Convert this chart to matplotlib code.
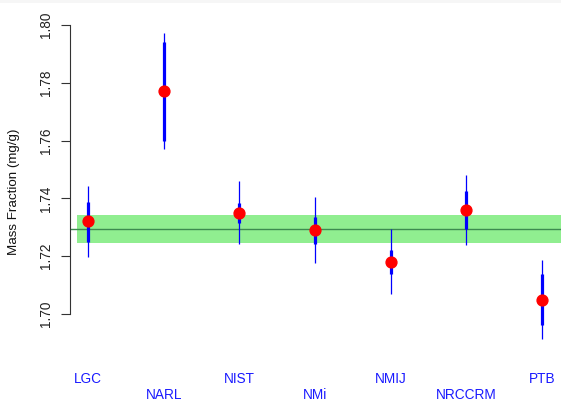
import numpy as np
import matplotlib.pyplot as plt
from matplotlib.transforms import blended_transform_factory
from matplotlib.patches import Rectangle

plt.rcParams['font.family'] = ['Liberation Sans', 'DejaVu Sans']

labs = ['LGC', 'NARL', 'NIST', 'NMi', 'NMIJ', 'NRCCRM', 'PTB']
value = [1.7322, 1.7772, 1.7351, 1.7291, 1.7180, 1.7360, 1.7050]
# standard uncertainty interval (thick) and expanded interval (thin)
lo1 = [1.7250, 1.7600, 1.7314, 1.7242, 1.7138, 1.7294, 1.6962]
hi1 = [1.7389, 1.7942, 1.7385, 1.7337, 1.7221, 1.7426, 1.7138]
lo2 = [1.7196, 1.7571, 1.7241, 1.7176, 1.7068, 1.7240, 1.6915]
hi2 = [1.7444, 1.7971, 1.7459, 1.7404, 1.7293, 1.7481, 1.7187]

kcrv = 1.7293
kcrv_lo = 1.7247
kcrv_hi = 1.7341

yticks = [1.70, 1.72, 1.74, 1.76, 1.78, 1.80]

W, H = 561, 409
fig = plt.figure(figsize=(W / 100, H / 100), dpi=100)
fig.patches.append(Rectangle((0, 1 - 3 / H), 1, 3 / H, transform=fig.transFigure,
                             color='#f6f6f6', lw=0))
ax = fig.add_axes([70 / W, 0, 1 - 70 / W, 1])
ax.patch.set_alpha(0)

x = np.arange(1, len(labs) + 1)

# consensus value band
ax.fill_between([0.851, 8], kcrv_lo, kcrv_hi, color='#90ee90', lw=0, zorder=1)
ax.axhline(kcrv, color='#3d8b4f', lw=1.0, zorder=2)

ax.vlines(x, lo2, hi2, color='blue', lw=0.9, zorder=3)
ax.vlines(x, lo1, hi1, color='blue', lw=2.3, zorder=4)
ax.plot(x, value, 'o', color='red', ms=7.8, mec='red', zorder=5)

ax.set_xlim(0.762, 7.251)
ax.set_ylim(1.66713, 1.80865)

for s in ['top', 'right', 'bottom']:
    ax.spines[s].set_visible(False)
ax.spines['left'].set_bounds(1.70, 1.80)
ax.spines['left'].set_color('#333333')
ax.set_xticks([])
ax.set_yticks(yticks, labels=[f'{t:.2f}' for t in yticks])
ax.tick_params(axis='y', length=6.3, width=0.8, color='#333333',
               pad=6.0, labelsize=9.8, labelcolor='#222222')
for lab in ax.get_yticklabels():
    lab.set_rotation(90)
    lab.set_va('center')
    lab.set_ha('right')

# lab names staggered on two rows
trans = blended_transform_factory(ax.transData, ax.transAxes)
for i, name in enumerate(labs):
    yrow = 1 - 379 / H if i % 2 == 0 else 1 - 395 / H
    ax.text(x[i], yrow, name, transform=trans, ha='center', va='center',
            color='#1a1aff', fontsize=9.8)

fig.text(14 / W, 1 - 191.5 / H, 'Mass Fraction (mg/g)', rotation=90,
         ha='center', va='center', fontsize=9.6, color='#111111')

fig.savefig('out.png', dpi=100)
